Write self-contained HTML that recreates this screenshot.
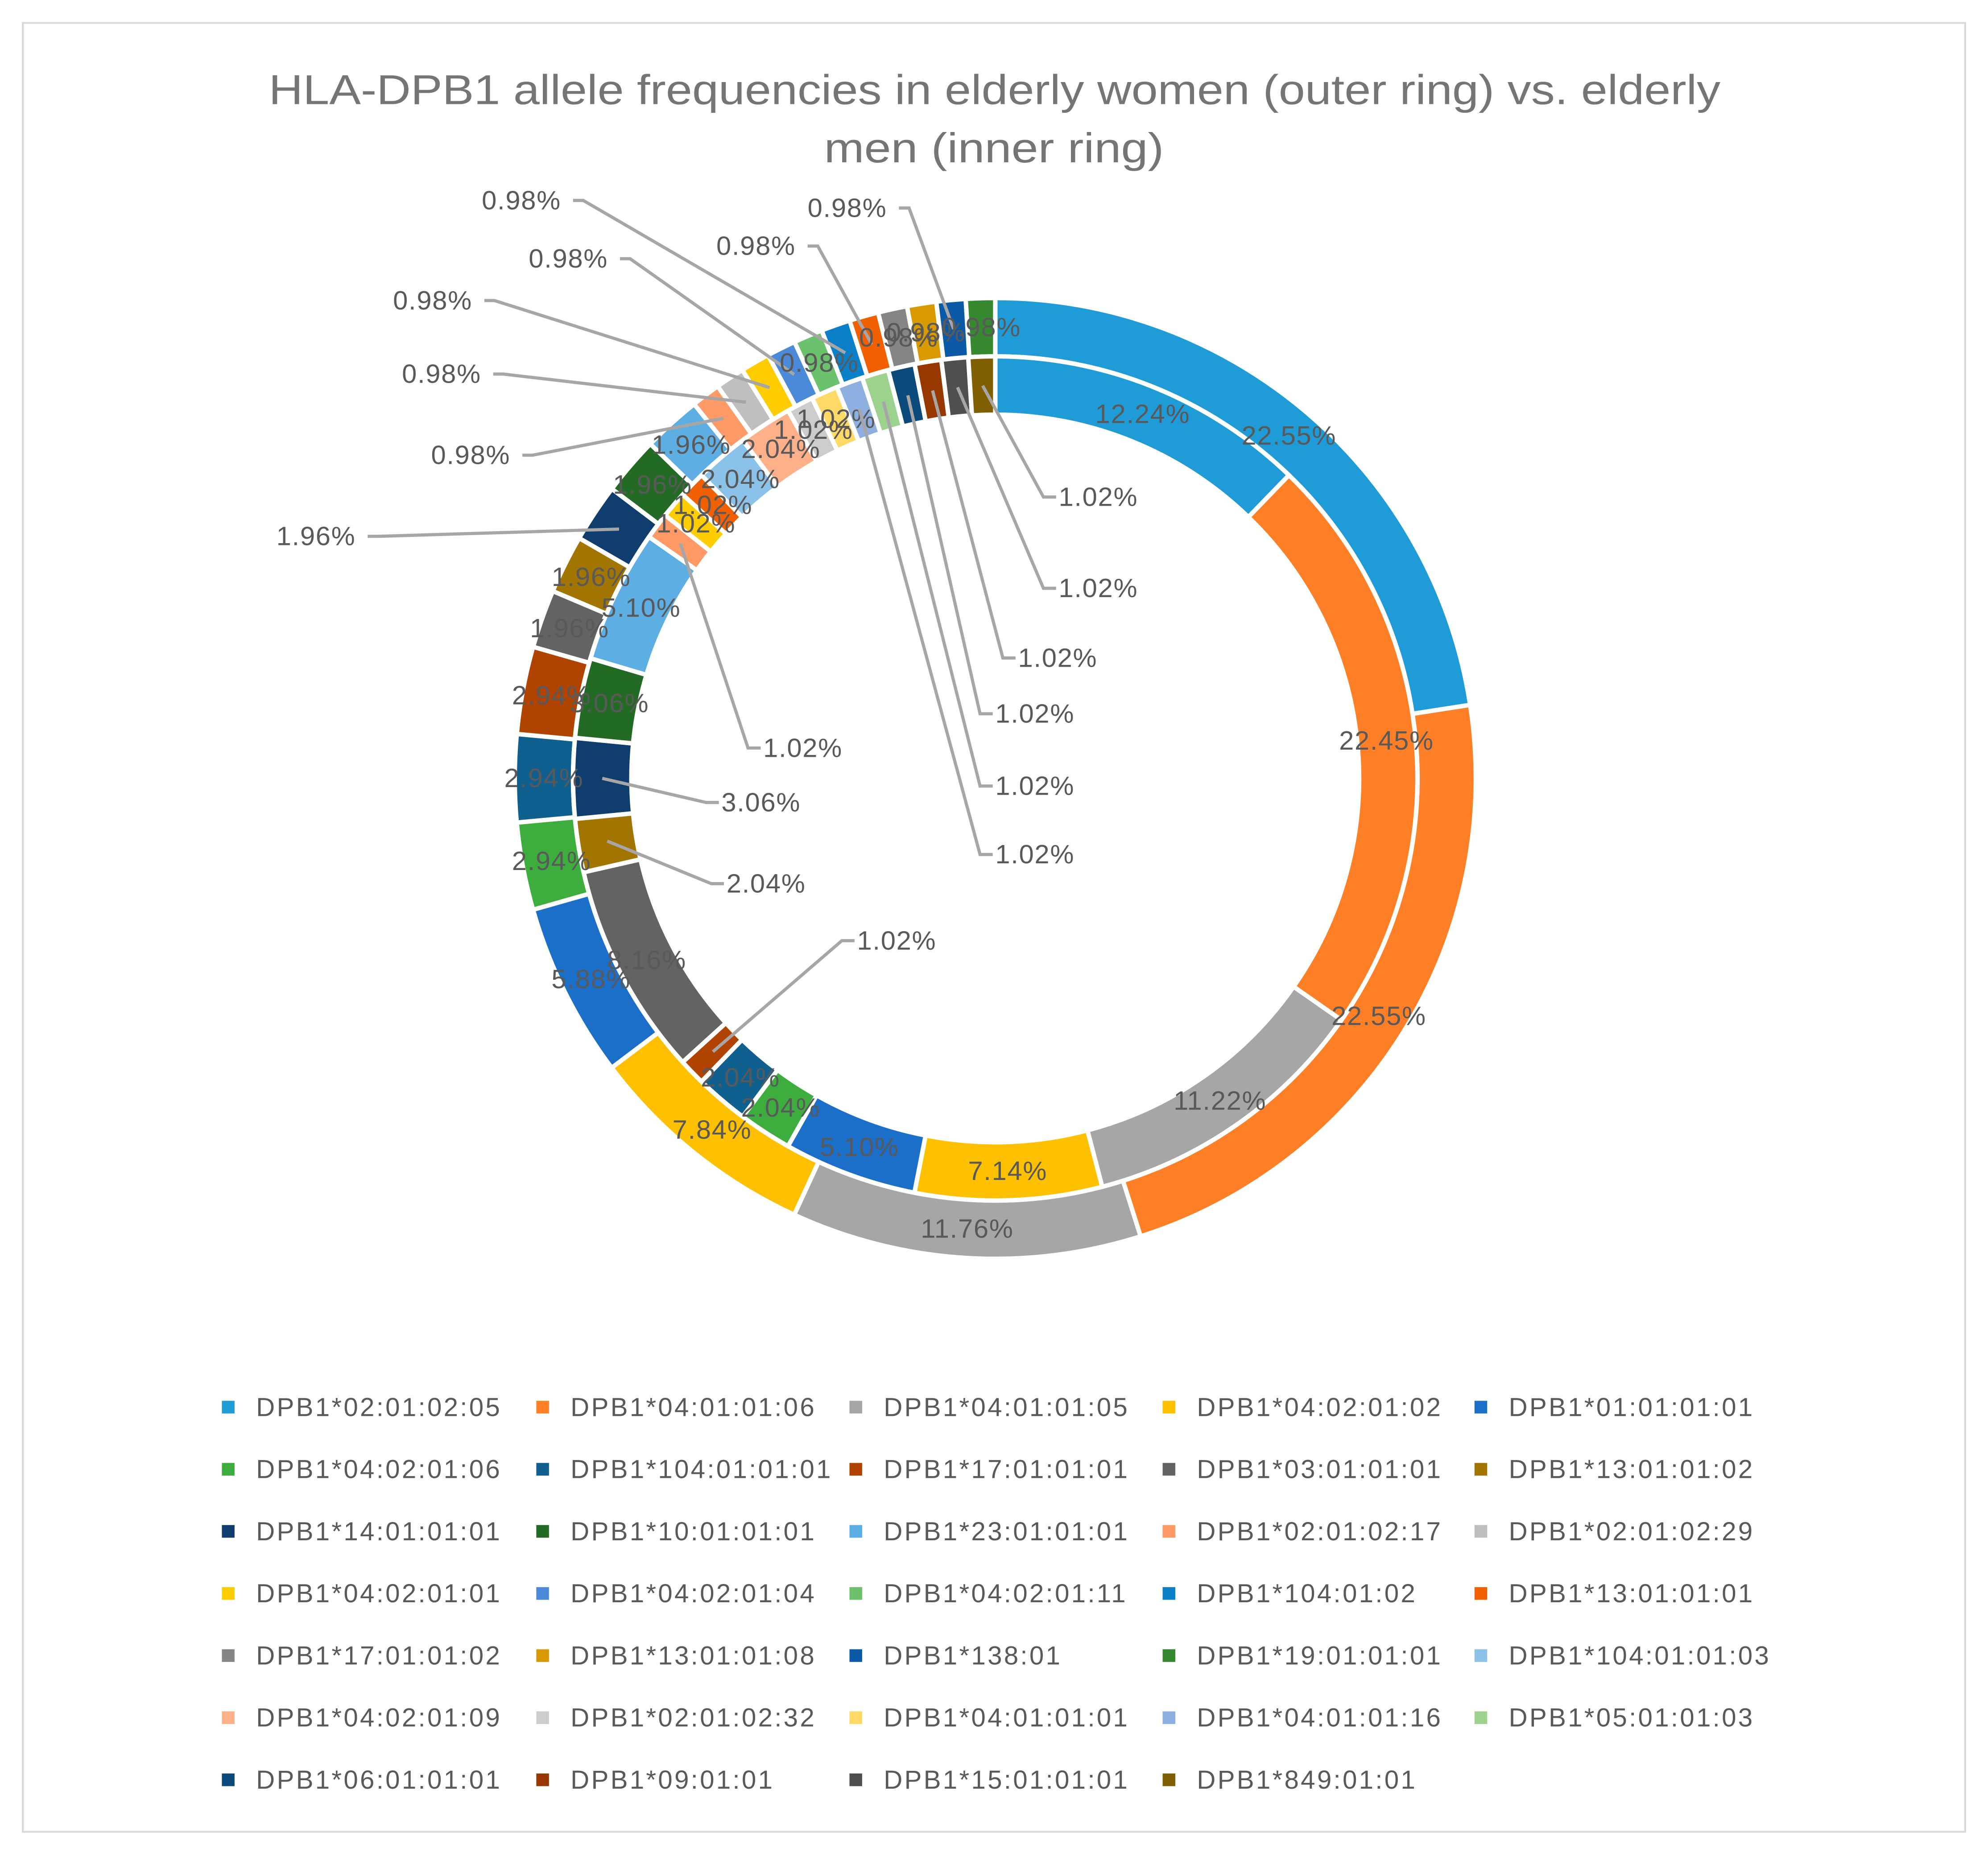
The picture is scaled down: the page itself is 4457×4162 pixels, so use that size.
<!DOCTYPE html>
<html><head><meta charset="utf-8"><style>
html,body{margin:0;padding:0;background:#fff}
svg{display:block}
text{font-family:"Liberation Sans",sans-serif}
</style></head><body>
<svg id="chart" width="4457" height="4162" viewBox="0 0 1568 1464" xmlns="http://www.w3.org/2000/svg">
<rect x="18" y="18" width="1532" height="1427" fill="#fff" stroke="#d9d9d9" stroke-width="1.5"/>
<text x="212" y="82" textLength="1145" lengthAdjust="spacingAndGlyphs" font-size="33" fill="#757575">HLA-DPB1 allele frequencies in elderly women (outer ring) vs. elderly</text>
<text x="650" y="128" textLength="268" lengthAdjust="spacingAndGlyphs" font-size="33" fill="#757575">men (inner ring)</text>
<g id="rings"></g>
<g id="labels"></g>
<g id="legend"></g>
</svg>
<script>
const categories = ["DPB1*02:01:02:05","DPB1*04:01:01:06","DPB1*04:01:01:05","DPB1*04:02:01:02","DPB1*01:01:01:01","DPB1*04:02:01:06","DPB1*104:01:01:01","DPB1*17:01:01:01","DPB1*03:01:01:01","DPB1*13:01:01:02","DPB1*14:01:01:01","DPB1*10:01:01:01","DPB1*23:01:01:01","DPB1*02:01:02:17","DPB1*02:01:02:29","DPB1*04:02:01:01","DPB1*04:02:01:04","DPB1*04:02:01:11","DPB1*104:01:02","DPB1*13:01:01:01","DPB1*17:01:01:02","DPB1*13:01:01:08","DPB1*138:01","DPB1*19:01:01:01","DPB1*104:01:01:03","DPB1*04:02:01:09","DPB1*02:01:02:32","DPB1*04:01:01:01","DPB1*04:01:01:16","DPB1*05:01:01:03","DPB1*06:01:01:01","DPB1*09:01:01","DPB1*15:01:01:01","DPB1*849:01:01"];
const women = [22.55,22.55,11.76,7.84,5.88,2.94,2.94,2.94,1.96,1.96,1.96,1.96,1.96,0.98,0.98,0.98,0.98,0.98,0.98,0.98,0.98,0.98,0.98,0.98,0,0,0,0,0,0,0,0,0,0];
const men = [12.24,22.45,11.22,7.14,5.10,2.04,2.04,1.02,8.16,2.04,3.06,3.06,5.10,1.02,0,1.02,0,0,0,1.02,0,0,0,0,2.04,2.04,1.02,1.02,1.02,1.02,1.02,1.02,1.02,1.02];
const colors = ["#1f9bd7","#ff7f27","#a6a6a6","#ffc000","#1b6fc8","#3dae3d","#0f5f8f","#b04300","#636363","#a27400","#0e3d6e","#236b24","#5daee3","#ff9966","#bfbfbf","#ffcc00","#4a8ad8","#6cc16c","#0a80c8","#f06000","#858585","#d99a00","#0a5aa8","#36892e","#8ac2ea","#ffb088","#cccccc","#ffd966","#8eb0e0","#9dd18e","#0b4a7a","#963800","#4f4f4f","#7f5f00"];
// leader-label layout (index -> text anchor), not data
const outerLeader = {10:[218,430],13:[340,366],14:[317,302],15:[310,244],16:[417,211],18:[380,165],19:[565,201],22:[637,171]};
const innerLeader = {7:[676,749],10:[569,640],9:[573,704],13:[602,597],28:[785,681],29:[785,627],30:[785,570],31:[803,526],32:[835,471],33:[835,399]};
const cx=785, cy=614;
const ns="http://www.w3.org/2000/svg";
function pt(r,a){return [cx+r*Math.sin(a), cy-r*Math.cos(a)];}
function arc(r0,r1,a0,a1){
  const p0=pt(r1,a0),p1=pt(r1,a1),p2=pt(r0,a1),p3=pt(r0,a0);
  const lg=(a1-a0)>Math.PI?1:0;
  return `M${p0[0]},${p0[1]}A${r1},${r1} 0 ${lg} 1 ${p1[0]},${p1[1]}L${p2[0]},${p2[1]}A${r0},${r0} 0 ${lg} 0 ${p3[0]},${p3[1]}Z`;
}
const rings=document.getElementById('rings'), labels=document.getElementById('labels');
function drawRing(vals,r0,r1,leaders,nm){
  const tot=vals.reduce((a,b)=>a+b,0);
  let a=0;
  vals.forEach((v,i)=>{
    if(v<=0) return;
    const a0=a, a1=a+v/tot*2*Math.PI; a=a1;
    const p=document.createElementNS(ns,'path');
    p.setAttribute('d',arc(r0,r1,a0,a1));
    p.setAttribute('fill',colors[i]);
    p.setAttribute('stroke','#fff');
    p.setAttribute('stroke-width','3.5');
    
    
    rings.appendChild(p);
    const mid=(a0+a1)/2;
    const t=document.createElementNS(ns,'text');
    t.textContent=v.toFixed(2)+'%';
    t.setAttribute('font-size','21');
    t.setAttribute('letter-spacing','0.6');
    t.setAttribute('fill','#595959');
    
    
    if(leaders[i]){
      const [tx,ty]=leaders[i];
      const e=pt((r0+r1)/2,mid);
      const right = tx>cx-60 && ty>pt(r1,mid)[1]+20 ? true : tx>e[0];
      const ln=document.createElementNS(ns,'polyline');
      const sx = right ? tx-12 : tx+80;
      ln.setAttribute('points',`${right?tx-2:tx+72},${ty-7} ${sx},${ty-7} ${e[0]},${e[1]}`);
      ln.setAttribute('fill','none');ln.setAttribute('stroke','#a6a6a6');ln.setAttribute('stroke-width','2.5');
      
      
      labels.appendChild(ln);
      t.setAttribute('x',tx);t.setAttribute('y',ty);
    } else {
      const c=pt((r0+r1)/2,mid);
      t.setAttribute('x',c[0]);t.setAttribute('y',c[1]+7);
      t.setAttribute('text-anchor','middle');
    }
    labels.appendChild(t);
  });
}
drawRing(women,333,379,outerLeader,'outer');
drawRing(men,287,333,innerLeader,'inner');
// legend
const lg=document.getElementById('legend');
const colX=[180,428,675,922,1168], rowY=[1110,1159,1208,1257,1306,1355,1404];
categories.forEach((c,i)=>{
  const x=colX[i%5], y=rowY[Math.floor(i/5)];
  const g=document.createElementNS(ns,'g');
  
  
  const r=document.createElementNS(ns,'rect');
  r.setAttribute('x',x-5);r.setAttribute('y',y-5);r.setAttribute('width',10);r.setAttribute('height',10);r.setAttribute('fill',colors[i]);
  
  
  const t=document.createElementNS(ns,'text');
  t.setAttribute('x',x+22);t.setAttribute('y',y+7);t.setAttribute('font-size','20.5');t.setAttribute('letter-spacing','1.5');t.setAttribute('fill','#595959');
  t.textContent=c;
  
  
  g.appendChild(r);g.appendChild(t);lg.appendChild(g);
});
</script>
</body></html>
